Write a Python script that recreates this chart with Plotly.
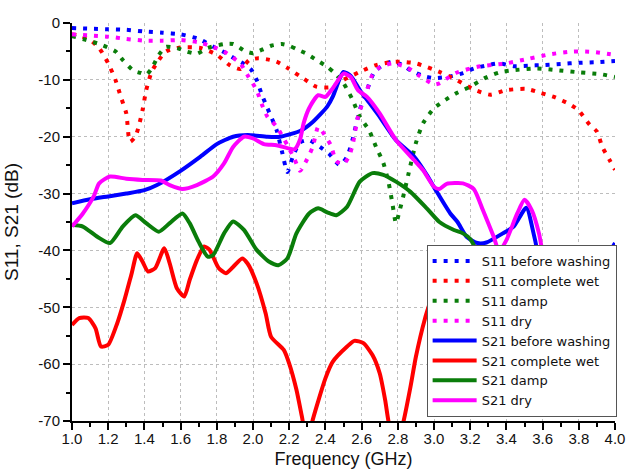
import plotly.graph_objects as go

# ---- data ----
s11_before_x = [1.0, 1.1, 1.2, 1.3, 1.4, 1.5, 1.6, 1.7, 1.8, 1.85, 1.9, 1.95, 1.99, 2.02, 2.05, 2.08, 2.13, 2.16, 2.19, 2.22, 2.26, 2.31, 2.37, 2.42, 2.48, 2.52, 2.55, 2.59, 2.63, 2.67, 2.72, 2.77, 2.82, 2.87, 2.94, 3.0, 3.09, 3.16, 3.22, 3.3, 3.36, 3.44, 3.52, 3.6, 3.7, 3.8, 3.9, 4.0]
s11_before_y = [-0.9, -1.0, -1.1, -1.2, -1.5, -1.7, -2.0, -2.8, -4.5, -5.3, -6.3, -7.2, -8.2, -10.0, -12.7, -15.0, -18.8, -22.6, -26.2, -23.5, -21.0, -20.6, -21.8, -23.0, -25.0, -23.5, -20.5, -15.3, -11.8, -8.6, -7.4, -6.8, -7.3, -8.3, -9.3, -9.7, -9.4, -8.8, -8.0, -7.4, -7.1, -7.6, -7.5, -7.4, -7.2, -7.0, -6.9, -6.7]

s11_wet_x = [1.0, 1.05, 1.1, 1.15, 1.2, 1.24, 1.27, 1.3, 1.32, 1.35, 1.37, 1.39, 1.41, 1.44, 1.48, 1.52, 1.6, 1.71, 1.8, 1.87, 1.93, 1.98, 2.03, 2.08, 2.13, 2.19, 2.28, 2.35, 2.43, 2.5, 2.59, 2.68, 2.79, 2.9, 3.03, 3.13, 3.22, 3.31, 3.4, 3.51, 3.59, 3.67, 3.75, 3.8, 3.86, 3.9, 3.93, 3.97, 4.0]
s11_wet_y = [-2.0, -2.3, -3.0, -4.4, -7.1, -10.0, -13.0, -15.9, -20.9, -20.0, -18.0, -15.3, -11.8, -8.6, -6.5, -5.0, -4.3, -4.4, -5.6, -7.4, -8.1, -6.5, -6.2, -6.4, -6.8, -7.9, -9.8, -11.2, -11.3, -10.0, -8.6, -7.4, -6.8, -7.1, -8.6, -10.1, -11.7, -12.6, -11.8, -11.6, -12.3, -13.1, -14.3, -15.4, -17.9, -19.1, -21.8, -24.1, -25.8]

s11_damp_x = [1.0, 1.08, 1.16, 1.24, 1.28, 1.34, 1.38, 1.41, 1.44, 1.48, 1.52, 1.58, 1.63, 1.69, 1.75, 1.84, 1.89, 1.96, 2.0, 2.05, 2.1, 2.16, 2.2, 2.24, 2.29, 2.35, 2.41, 2.45, 2.5, 2.55, 2.59, 2.64, 2.68, 2.72, 2.75, 2.77, 2.79, 2.81, 2.83, 2.86, 2.9, 2.94, 3.0, 3.05, 3.12, 3.2, 3.28, 3.36, 3.44, 3.57, 3.68, 3.81, 3.92, 4.0]
s11_damp_y = [-2.3, -3.0, -3.8, -5.0, -6.5, -8.4, -8.8, -9.1, -8.0, -5.6, -4.2, -4.4, -5.0, -5.4, -4.4, -3.7, -3.7, -5.0, -5.3, -4.7, -4.0, -3.7, -4.0, -4.6, -5.3, -6.5, -7.7, -8.8, -10.6, -13.5, -16.5, -18.8, -21.8, -24.6, -28.2, -31.7, -35.2, -33.0, -30.5, -26.4, -21.1, -17.6, -15.0, -13.8, -12.4, -11.2, -9.7, -8.7, -8.3, -8.0, -8.3, -8.7, -9.0, -9.5]

s11_dry_x = [1.0, 1.1, 1.2, 1.3, 1.4, 1.5, 1.6, 1.7, 1.78, 1.84, 1.88, 1.93, 1.97, 2.02, 2.05, 2.08, 2.13, 2.19, 2.23, 2.26, 2.29, 2.33, 2.36, 2.39, 2.43, 2.46, 2.5, 2.53, 2.55, 2.58, 2.63, 2.66, 2.7, 2.77, 2.85, 2.92, 3.0, 3.03, 3.12, 3.24, 3.4, 3.52, 3.64, 3.77, 3.88, 4.0]
s11_dry_y = [-2.0, -2.2, -2.4, -2.8, -3.1, -3.1, -3.0, -3.4, -4.2, -5.0, -5.9, -7.1, -9.2, -11.8, -14.4, -16.5, -18.2, -21.5, -24.0, -26.0, -24.5, -21.8, -18.3, -19.4, -21.5, -24.3, -24.8, -23.5, -21.5, -16.5, -11.8, -9.1, -7.8, -7.1, -7.8, -9.3, -10.8, -10.6, -8.8, -7.7, -7.1, -6.3, -5.5, -5.0, -5.1, -5.6]

s21_before_x = [1.0, 1.1, 1.2, 1.3, 1.4, 1.47, 1.6, 1.71, 1.8, 1.89, 1.97, 2.08, 2.15, 2.2, 2.26, 2.33, 2.41, 2.44, 2.48, 2.5, 2.54, 2.59, 2.63, 2.7, 2.79, 2.89, 2.96, 3.01, 3.09, 3.13, 3.18, 3.24, 3.29, 3.38, 3.44, 3.51, 3.55, 3.57, 3.62, 3.7, 3.8, 3.9, 3.97, 4.0]
s21_before_y = [-31.7, -31.0, -30.5, -30.0, -29.4, -28.5, -26.0, -23.5, -21.3, -20.0, -19.7, -20.0, -20.0, -19.6, -19.0, -17.4, -14.7, -13.0, -9.7, -8.6, -9.3, -11.8, -13.5, -16.5, -20.6, -23.5, -26.7, -29.4, -33.5, -35.0, -37.6, -38.7, -38.6, -37.0, -35.8, -32.5, -37.0, -40.0, -50.0, -60.0, -60.0, -50.0, -40.5, -38.7]

s21_wet_x = [1.0, 1.04, 1.09, 1.13, 1.16, 1.2, 1.25, 1.29, 1.33, 1.36, 1.39, 1.42, 1.46, 1.51, 1.54, 1.58, 1.62, 1.65, 1.69, 1.73, 1.76, 1.81, 1.85, 1.89, 1.94, 1.97, 2.02, 2.07, 2.1, 2.17, 2.2, 2.24, 2.27, 2.3, 2.33, 2.4, 2.44, 2.52, 2.56, 2.61, 2.66, 2.7, 2.73, 2.75, 2.79, 2.83, 2.87, 2.9, 2.95, 3.0]
s21_wet_y = [-53.1, -51.9, -51.9, -53.7, -56.9, -56.6, -52.8, -48.7, -44.0, -40.5, -42.0, -43.7, -43.1, -39.6, -42.3, -46.7, -48.1, -45.2, -41.7, -39.3, -39.9, -43.1, -44.0, -42.9, -41.4, -42.3, -45.8, -51.1, -55.2, -57.5, -59.9, -64.5, -69.2, -74.0, -69.8, -62.5, -59.6, -56.9, -55.9, -56.3, -58.4, -61.6, -66.3, -70.3, -75.0, -70.3, -64.0, -58.7, -52.0, -47.0]

s21_damp_x = [1.0, 1.06, 1.14, 1.21, 1.28, 1.35, 1.41, 1.48, 1.54, 1.61, 1.65, 1.7, 1.75, 1.78, 1.84, 1.89, 1.95, 2.02, 2.09, 2.14, 2.19, 2.24, 2.31, 2.36, 2.41, 2.46, 2.52, 2.59, 2.66, 2.72, 2.79, 2.87, 2.96, 3.03, 3.11, 3.16, 3.2, 3.24, 3.28, 3.35]
s21_damp_y = [-35.5, -35.8, -37.6, -38.7, -35.8, -33.8, -35.2, -36.7, -35.2, -33.5, -35.2, -38.5, -41.1, -40.8, -37.0, -34.9, -36.4, -39.9, -42.0, -42.6, -41.4, -37.0, -33.5, -32.6, -33.3, -33.8, -32.3, -27.9, -26.4, -26.7, -27.9, -29.7, -32.6, -35.0, -36.4, -37.0, -38.0, -40.5, -48.0, -55.0]

s21_dry_x = [1.0, 1.06, 1.12, 1.15, 1.21, 1.3, 1.39, 1.49, 1.54, 1.61, 1.69, 1.78, 1.84, 1.89, 1.95, 2.0, 2.06, 2.13, 2.19, 2.23, 2.26, 2.28, 2.31, 2.36, 2.4, 2.44, 2.5, 2.54, 2.58, 2.63, 2.7, 2.79, 2.89, 2.94, 3.0, 3.03, 3.07, 3.16, 3.22, 3.27, 3.33, 3.36, 3.4, 3.46, 3.5, 3.54, 3.58, 3.6, 3.65, 3.75, 3.85, 3.95, 4.0]
s21_dry_y = [-35.8, -33.5, -30.5, -28.2, -27.0, -27.4, -27.6, -27.7, -28.5, -29.2, -28.5, -27.0, -24.7, -21.8, -20.0, -20.3, -21.3, -21.5, -22.0, -22.2, -20.5, -17.6, -15.0, -12.7, -13.0, -11.5, -8.9, -9.5, -11.8, -13.0, -15.9, -20.6, -24.1, -25.9, -28.8, -29.2, -28.3, -28.2, -29.2, -32.9, -37.6, -40.2, -38.2, -33.5, -31.1, -32.9, -37.0, -40.5, -50.0, -62.0, -58.0, -45.0, -39.5]

x_range = [1.0, 4.0]
y_range = [-70, 0]
y_tick_vals = [-70, -60, -50, -40, -30, -20, -10, 0]
y_tick_text = ["-70", "-60", "-50", "-40", "-30", "-20", "-10", "0"]
x_grid_vals = [1.2, 1.4, 1.6, 1.8, 2.0, 2.2, 2.4, 2.6, 2.8, 3.0, 3.2, 3.4, 3.6, 3.8]
y_grid_vals = [-60, -50, -40, -30, -20, -10]

BLUE, RED, GREEN, MAGENTA = "#0000FF", "#FF0000", "#0A7D0A", "#FF00FF"
FONT = "Arial, 'Liberation Sans', sans-serif"
LEGEND_FONT = "'DejaVu Sans', Arial, sans-serif"

fig = go.Figure()

dotted = [
    ("S11 before washing", s11_before_x, s11_before_y, BLUE),
    ("S11 complete wet", s11_wet_x, s11_wet_y, RED),
    ("S11 damp", s11_damp_x, s11_damp_y, GREEN),
    ("S11 dry", s11_dry_x, s11_dry_y, MAGENTA),
]
solid = [
    ("S21 before washing", s21_before_x, s21_before_y, BLUE),
    ("S21 complete wet", s21_wet_x, s21_wet_y, RED),
    ("S21 damp", s21_damp_x, s21_damp_y, GREEN),
    ("S21 dry", s21_dry_x, s21_dry_y, MAGENTA),
]

for name, xs, ys, c in dotted:
    fig.add_trace(go.Scatter(x=xs, y=ys, name=name, mode="lines",
                             line=dict(color=c, width=4, dash="4px,7px", shape="spline", smoothing=0.6)))
for name, xs, ys, c in solid:
    fig.add_trace(go.Scatter(x=xs, y=ys, name=name, mode="lines",
                             line=dict(color=c, width=4, shape="spline", smoothing=0.6)))

axis_common = dict(
    showline=True, linecolor="black", linewidth=2,
    ticks="outside", ticklen=7, tickwidth=2, tickcolor="black",
    showgrid=False, zeroline=False, mirror=False, automargin=False,
    tickfont=dict(family=FONT, size=15, color="#111111"),
)

fig.update_layout(
    xaxis=dict(range=x_range, dtick=0.2, tick0=1.0, tickformat=".1f", ticklabelstandoff=-4,
               minor=dict(dtick=0.1, ticks="outside", ticklen=4, tickwidth=2, tickcolor="black", showgrid=False),
               title=dict(text="Frequency (GHz)", font=dict(family=FONT, size=18, color="#111111")),
               **axis_common),
    yaxis=dict(range=y_range, tickmode="array", tickvals=y_tick_vals, ticktext=y_tick_text,
               minor=dict(tick0=0, dtick=5, ticks="outside", ticklen=4, tickwidth=2, tickcolor="black", showgrid=False),
               title=dict(text="S11, S21 (dB)", font=dict(family=FONT, size=19, color="#111111")),
               **axis_common),
    # interior dashed grid only (no gridline on the plot edges)
    xaxis2=dict(range=x_range, overlaying="x", anchor="y", tickvals=x_grid_vals, showticklabels=False,
                ticks="", showline=False, zeroline=False, showgrid=True, gridcolor="#BDBDBD",
                gridwidth=1, griddash="dot", automargin=False),
    yaxis2=dict(range=y_range, overlaying="y", anchor="x", tickvals=y_grid_vals, showticklabels=False,
                ticks="", showline=False, zeroline=False, showgrid=True, gridcolor="#BDBDBD",
                gridwidth=1, griddash="dot", automargin=False),
    width=627, height=469,
    margin=dict(l=72, r=12, t=23, b=48, autoexpand=False),
    paper_bgcolor="white", plot_bgcolor="white",
    font=dict(family=FONT, color="#111111"),
    legend=dict(x=1.003, xanchor="right", y=0.01, yanchor="bottom",
                bgcolor="white", bordercolor="#555555", borderwidth=1,
                itemwidth=44,
                font=dict(family=LEGEND_FONT, size=13, color="#111111"),
                tracegroupgap=0),
    showlegend=True,
)

# invisible helper so the grid-only axes are rendered
fig.add_trace(go.Scatter(x=[x_range[0]], y=[y_range[0]], xaxis="x2", yaxis="y2", mode="markers",
                         marker=dict(opacity=0), showlegend=False, hoverinfo="skip"))

fig.write_html("out.html")
